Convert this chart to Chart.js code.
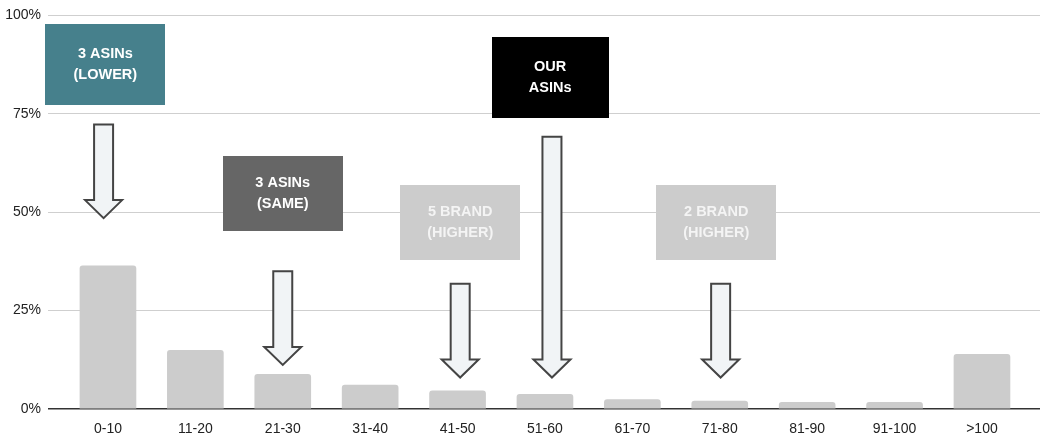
<!DOCTYPE html>
<html>
<head>
<meta charset="utf-8">
<script src="https://cdn.jsdelivr.net/npm/chart.js@4/dist/chart.umd.min.js"></script>
<style>
  html, body { margin: 0; padding: 0; background: #ffffff; }
  #wrap { width: 1047px; height: 443px; }
</style>
</head>
<body>
<div id="wrap"><canvas id="chart" width="1047" height="443"></canvas></div>
<script>
// Price-gap buckets and the share of listings in each
const categories = ['0-10', '11-20', '21-30', '31-40', '41-50', '51-60', '61-70', '71-80', '81-90', '91-100', '>100'];
const shareValues = [36.4, 14.9, 8.8, 6.1, 4.6, 3.7, 2.4, 2.0, 1.7, 1.7, 13.9];
const yTickValues = [0, 25, 50, 75, 100];

// Callout boxes: centre given as (bucket index, percent)
const calloutText = [
  ['3 ASINs', '(LOWER)'],
  ['3 ASINs', '(SAME)'],
  ['5 BRAND', '(HIGHER)'],
  ['OUR', 'ASINs'],
  ['2 BRAND', '(HIGHER)']
];
const calloutX = [-0.03, 2.0, 4.03, 5.06, 6.96];
const calloutY = [87.6, 54.7, 47.5, 84.3, 47.5];

// Arrows pointing down at buckets: bucket index, start percent, tip percent
const arrowX = [-0.05, 2.0, 4.03, 5.08, 7.01];
const arrowFrom = [72.3, 35.0, 31.8, 69.2, 31.8];
const arrowTo = [48.5, 11.2, 8.0, 8.0, 8.0];

const FONT = "'Liberation Sans', Arial, Helvetica, sans-serif";
const calloutStyles = [
  { w: 120, h: 81, fill: '#46808c', ink: '#ffffff' },
  { w: 120, h: 75, fill: '#666666', ink: '#ffffff' },
  { w: 120, h: 75, fill: '#cccccc', ink: '#f4f4f4' },
  { w: 117, h: 81, fill: '#000000', ink: '#ffffff' },
  { w: 120, h: 75, fill: '#cccccc', ink: '#f4f4f4' }
];

const annotationPlugin = {
  id: 'calloutsAndArrows',
  afterDatasetsDraw(chart) {
    const { ctx, scales: { x, y } } = chart;
    ctx.save();

    // arrows
    const shaftHalf = 9.5, headHalf = 18.5, headLen = 18;
    arrowX.forEach((xi, i) => {
      const cx = x.getPixelForValue(xi);
      const top = y.getPixelForValue(arrowFrom[i]);
      const tip = y.getPixelForValue(arrowTo[i]);
      const neck = tip - headLen;
      ctx.beginPath();
      ctx.moveTo(cx - shaftHalf, top);
      ctx.lineTo(cx + shaftHalf, top);
      ctx.lineTo(cx + shaftHalf, neck);
      ctx.lineTo(cx + headHalf, neck);
      ctx.lineTo(cx, tip);
      ctx.lineTo(cx - headHalf, neck);
      ctx.lineTo(cx - shaftHalf, neck);
      ctx.closePath();
      ctx.fillStyle = '#f1f4f6';
      ctx.fill();
      ctx.lineWidth = 2;
      ctx.lineJoin = 'miter';
      ctx.strokeStyle = '#444444';
      ctx.stroke();
    });

    // callout boxes
    ctx.font = 'bold 14.5px ' + FONT;
    ctx.textAlign = 'center';
    ctx.textBaseline = 'middle';
    calloutText.forEach((lines, i) => {
      const s = calloutStyles[i];
      const cx = x.getPixelForValue(calloutX[i]);
      const cy = y.getPixelForValue(calloutY[i]);
      ctx.fillStyle = s.fill;
      ctx.fillRect(Math.round(cx - s.w / 2), Math.round(cy - s.h / 2), s.w, s.h);
      ctx.fillStyle = s.ink;
      ctx.fillText(lines[0], cx, cy - 10.5);
      ctx.fillText(lines[1], cx, cy + 10.5);
    });

    ctx.restore();
  }
};

new Chart(document.getElementById('chart'), {
  type: 'bar',
  data: {
    datasets: [{
      data: categories.map((c, i) => ({ x: i, y: shareValues[i] })),
      backgroundColor: '#cccccc',
      borderRadius: { topLeft: 3, topRight: 3, bottomLeft: 0, bottomRight: 0 },
      borderSkipped: 'bottom',
      barThickness: 56
    }]
  },
  options: {
    responsive: false,
    devicePixelRatio: 1,
    animation: false,
    layout: { padding: { top: 13, right: 7, left: 0, bottom: 0 } },
    plugins: { legend: { display: false }, tooltip: { enabled: false } },
    scales: {
      x: {
        type: 'linear',
        offset: false,
        min: -0.686,
        max: 10.664,
        afterBuildTicks(scale) {
          scale.ticks = categories.map((c, i) => ({ value: i }));
        },
        afterFit(scale) { scale.height = 34; },
        grid: { display: false, drawTicks: false, offset: false },
        border: { display: false },
        ticks: {
          autoSkip: false,
          maxRotation: 0,
          padding: 12,
          color: '#222222',
          font: { family: FONT, size: 14 },
          callback: (v) => categories[v] ?? ''
        }
      },
      y: {
        min: 0,
        max: 100,
        afterBuildTicks(scale) {
          scale.ticks = yTickValues.map(v => ({ value: v }));
        },
        afterFit(scale) { scale.width = 48; },
        border: { display: false },
        grid: {
          drawTicks: false,
          lineWidth: (c) => (c.tick && c.tick.value === 0 ? 1.5 : 1),
          color: (c) => (c.tick && c.tick.value === 0 ? '#333333' : '#cfcfcf')
        },
        ticks: {
          padding: 7,
          color: '#222222',
          font: { family: FONT, size: 14 },
          callback: (v) => v + '%'
        }
      }
    }
  },
  plugins: [annotationPlugin]
});
</script>
</body>
</html>
